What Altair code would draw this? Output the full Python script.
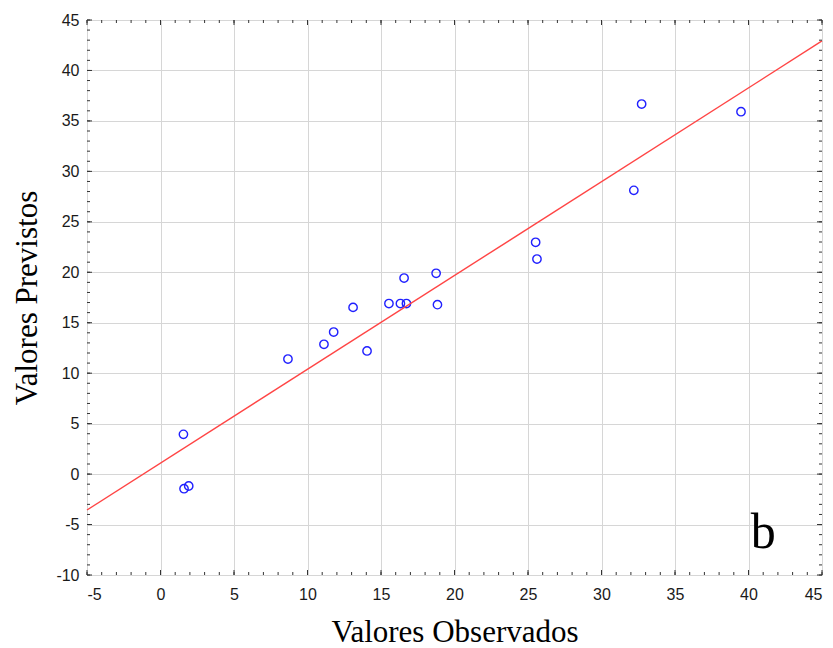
import altair as alt
import pandas as pd

observed = [1.56, 1.60, 1.92, 8.67, 11.12, 11.78, 13.10, 14.05, 15.54, 16.32,
            16.73, 18.84, 16.57, 18.75, 25.52, 25.61, 32.20, 32.73, 39.49]
predicted = [3.94, -1.45, -1.18, 11.40, 12.86, 14.08, 16.52, 12.20, 16.90, 16.90,
             16.90, 16.79, 19.43, 19.90, 22.97, 21.31, 28.12, 36.67, 35.91]

x_ticks = [-5, 0, 5, 10, 15, 20, 25, 30, 35, 40, 45]
y_ticks = [-10, -5, 0, 5, 10, 15, 20, 25, 30, 35, 40, 45]
x_minor = list(range(-5, 46))
y_minor = list(range(-10, 46))

panel_label = ["b"]
panel_label_x = [41.0]
panel_label_y = [-7.3]

W, H = 735, 555
TICK_FONT = "Liberation Sans Narrow, Arial Narrow, Liberation Sans, sans-serif"
TITLE_FONT = "Liberation Serif, Times New Roman, serif"

df = pd.DataFrame({"obs": observed, "pred": predicted})
xs = alt.Scale(domain=[-5, 45], nice=False, zero=False)
ys = alt.Scale(domain=[-10, 45], nice=False, zero=False)

x_axis = alt.Axis(values=x_ticks, title="Valores Observados", grid=True, ticks=False, tickSize=0,
                  domain=False, gridColor="#d6d6d6", gridWidth=1,
                  labelExpr="'' + datum.value",
                  labelFont=TICK_FONT, labelFontSize=16, labelColor="#1a1a1a", labelPadding=11,
                  titleFont=TITLE_FONT, titleFontSize=31, titleFontWeight="normal",
                  titleColor="#000000", titlePadding=15)
y_axis = alt.Axis(values=y_ticks, title="Valores Previstos", grid=True, ticks=False, tickSize=0,
                  domain=False, gridColor="#d6d6d6", gridWidth=1,
                  labelExpr="'' + datum.value",
                  labelFont=TICK_FONT, labelFontSize=16, labelColor="#1a1a1a", labelPadding=8,
                  titleFont=TITLE_FONT, titleFontSize=31, titleFontWeight="normal",
                  titleColor="#000000", titlePadding=12)

points = alt.Chart(df).mark_point(shape="circle", filled=False, color="#2020ff", opacity=1,
                                  size=70, strokeWidth=1.4).encode(
    x=alt.X("obs:Q", scale=xs, axis=x_axis),
    y=alt.Y("pred:Q", scale=ys, axis=y_axis),
)

fit = alt.Chart(df).transform_regression("obs", "pred", extent=[-5, 45]).mark_line(
    color="#ff4545", strokeWidth=1.4).encode(
    x=alt.X("obs:Q", scale=xs),
    y=alt.Y("pred:Q", scale=ys),
)

TICK_COLOR = "#333333"


def xticks(vals, y0, y1):
    d = pd.DataFrame({"v": vals})
    return alt.Chart(d).mark_rule(color=TICK_COLOR, strokeWidth=1).encode(
        x=alt.X("v:Q", scale=xs), y=alt.value(y0), y2=alt.value(y1))


def yticks(vals, x0, x1):
    d = pd.DataFrame({"v": vals})
    return alt.Chart(d).mark_rule(color=TICK_COLOR, strokeWidth=1).encode(
        y=alt.Y("v:Q", scale=ys), x=alt.value(x0), x2=alt.value(x1))


tick_layers = [
    xticks(x_minor, H, H - 3), xticks(x_ticks, H, H - 5),
    xticks(x_minor, 0, 3), xticks(x_ticks, 0, 5),
    yticks(y_minor, 0, 3), yticks(y_ticks, 0, 5),
    yticks(y_minor, W, W - 3), yticks(y_ticks, W, W - 5),
]

lab = alt.Chart(pd.DataFrame({"t": panel_label, "x": panel_label_x, "y": panel_label_y})).mark_text(
    font=TITLE_FONT, fontSize=50, color="#000000", align="center", baseline="alphabetic").encode(
    x=alt.X("x:Q", scale=xs), y=alt.Y("y:Q", scale=ys), text="t:N")

chart = alt.layer(points, fit, *tick_layers, lab).properties(
    width=W, height=H,
    autosize=alt.AutoSizeParams(type="none"),
    padding={"left": 87, "top": 20, "right": 11, "bottom": 73},
).configure_view(stroke="#333333", strokeWidth=1.6).configure(background="white")

chart.save("out.html", embed_options={"renderer": "svg", "actions": False})
